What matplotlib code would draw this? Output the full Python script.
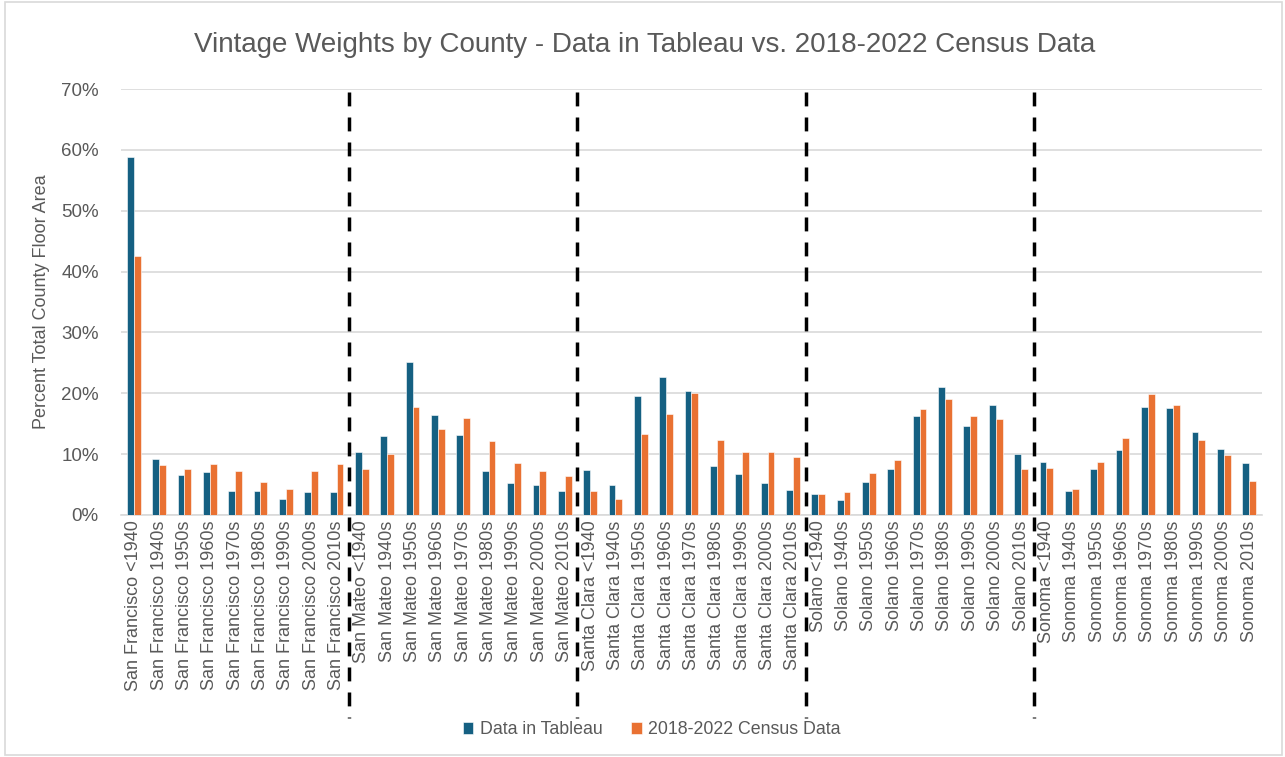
import numpy as np
import matplotlib
matplotlib.use("Agg")
import matplotlib.pyplot as plt
from matplotlib.ticker import PercentFormatter

counties = ["San Francisco", "San Mateo", "Santa Clara", "Solano", "Sonoma"]
vintages = ["<1940", "1940s", "1950s", "1960s", "1970s", "1980s", "1990s", "2000s", "2010s"]

# percent of total county floor area
tableau = [
    58.8, 9.2, 6.5, 7.0, 4.0, 4.0, 2.6, 3.8, 3.8,      # San Francisco
    10.3, 13.0, 25.1, 16.5, 13.2, 7.3, 5.3, 5.0, 3.9,  # San Mateo
    7.4, 4.9, 19.5, 22.7, 20.4, 8.0, 6.7, 5.3, 4.1,    # Santa Clara
    3.5, 2.4, 5.5, 7.5, 16.3, 21.1, 14.7, 18.1, 10.1,  # Solano
    8.7, 4.0, 7.6, 10.7, 17.8, 17.5, 13.7, 10.9, 8.5,  # Sonoma
]
census = [
    42.5, 8.2, 7.5, 8.4, 7.2, 5.5, 4.3, 7.3, 8.4,
    7.5, 10.1, 17.7, 14.1, 16.0, 12.1, 8.6, 7.3, 6.4,
    3.9, 2.6, 13.3, 16.6, 20.1, 12.3, 10.3, 10.4, 9.6,
    3.5, 3.7, 6.9, 9.1, 17.4, 19.0, 16.3, 15.7, 7.5,
    7.8, 4.2, 8.7, 12.7, 19.9, 18.0, 12.4, 9.9, 5.6,
]

labels = [f"{c} {v}" for c in counties for v in vintages]

BLUE = "#156082"
ORANGE = "#E97132"
TEXT = "#595959"
GRID = "#D9D9D9"

plt.rcParams["font.family"] = ["Liberation Sans", "DejaVu Sans"]

fig = plt.figure(figsize=(12.85, 7.57), dpi=100)
ax = fig.add_axes([0.0942, 0.3197, 0.8878, 0.5627])

x = np.arange(len(labels))
w = 0.27
ax.bar(x - w / 2, np.array(tableau) / 100, w, color=BLUE, edgecolor="white",
       linewidth=0.4, label="Data in Tableau", zorder=3)
ax.bar(x + w / 2, np.array(census) / 100, w, color=ORANGE, edgecolor="white",
       linewidth=0.4, label="2018-2022 Census Data", zorder=3)

ax.set_xlim(-0.5, len(labels) - 0.5)
ax.set_ylim(0, 0.7)
ax.set_yticks(np.arange(0, 0.71, 0.1))
ax.yaxis.set_major_formatter(PercentFormatter(1.0, decimals=0))
ax.grid(axis="y", color=GRID, linewidth=1.2, zorder=0)
for s in ["top", "right", "left"]:
    ax.spines[s].set_visible(False)
ax.spines["bottom"].set_color(GRID)
ax.spines["bottom"].set_linewidth(1.2)
ax.tick_params(axis="both", length=0, colors=TEXT)
ax.tick_params(axis="y", pad=16, labelsize=13.5)
ax.tick_params(axis="x", pad=4)
ax.set_xticks(x)
ax.set_xticklabels(labels, rotation=90, fontsize=13)

ax.set_ylabel("Percent Total County Floor Area", color=TEXT, fontsize=13, labelpad=8)

# county separators
for k in range(1, len(counties)):
    sep = k * len(vintages) - 0.5
    ax.plot([sep, sep], [0.695, -0.333], color="black", linestyle=(0, (4, 3.2)),
            linewidth=2.5, clip_on=False, zorder=4)

fig.suptitle("Vintage Weights by County - Data in Tableau vs. 2018-2022 Census Data",
             x=0.502, y=0.958, fontsize=20, color=TEXT)

fig.legend(loc="center", bbox_to_anchor=(0.507, 0.036), ncol=2, frameon=False,
           fontsize=12.8, labelcolor=TEXT, handlelength=0.6, handleheight=0.6,
           columnspacing=1.6, handletextpad=0.35)

fig.patches.append(plt.Rectangle((0.004, 0.002), 0.994, 0.996, transform=fig.transFigure,
                                 fill=False, edgecolor="#D9D9D9", linewidth=1.2))

fig.savefig("out.png", dpi=100)
